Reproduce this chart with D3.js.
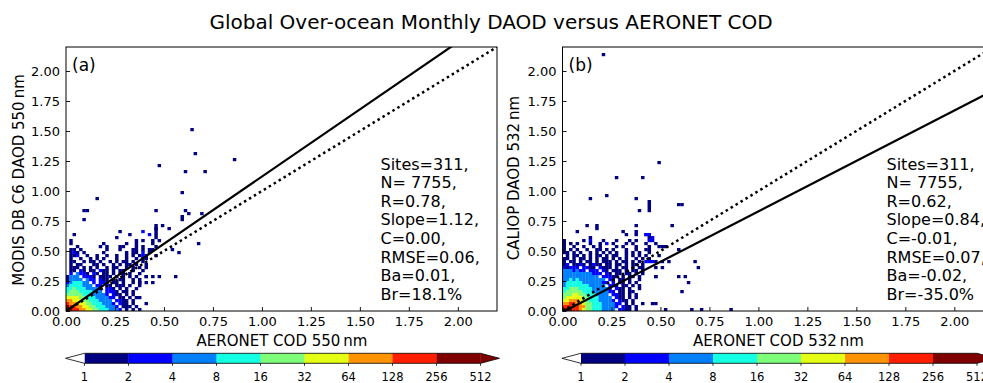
<!DOCTYPE html>
<html><head><meta charset="utf-8">
<script src="https://cdn.jsdelivr.net/npm/d3@7"></script>
<style>
body{margin:0;background:#fff}
svg{display:block;font-family:"DejaVu Sans",sans-serif}
</style>
</head><body><svg id="c" width="983" height="383"></svg>
<script>
// ---------------- data ----------------
const title = "Global Over-ocean Monthly DAOD versus AERONET COD";
const axisTicks = [0, 0.25, 0.5, 0.75, 1.0, 1.25, 1.5, 1.75, 2.0];
const cbarTicks = [1, 2, 4, 8, 16, 32, 64, 128, 256, 512];
const binColors = ["#000080", "#0000ff", "#0080ff", "#15ffe2", "#7dff7a", "#e4ff13", "#ff9400", "#ff1e00", "#800000"];
// representative count for each level digit (0 = empty)
const levelCounts = [0, 1, 3, 6, 12, 24, 48, 96, 192, 384];
const binW = 0.0167, binH = 0.025;

// panel (a): rows top (iy=28) to bottom (iy=0), columns ix=0..
const gridA = [
"...........................1..",
"...........................1..",
"................1......2...1..",
"..1................1.....2.1..",
"...............1...........1..",
".1...................1.1..1.1.",
".1.........1......1..1....1...",
"...1......1.1...11...1.1...1..",
".11.1.......1...1...11.1.11...",
".121.1.....1......1.11.2.1....",
".112..1..1..1..1..1.1.122..1..",
".1..1..1.1.1...1..1..1.11.....",
".11..1.11.1..1.1.11.1..1......",
".1.11...11.1..1.1.11.1..1.....",
".111.1.1.1..1.11..1.1.1.1.....",
".11.21.11.211.1.11..1..1......",
".2.3221.21.11.1.11.1..1.......",
"1333.2221.1111.1.1.1.1..1.1...",
"13333.322.211.1.11..1.1.......",
"2344433.2.221.11.1..1.1.1.....",
"34444333.22.21.111.1..1.......",
"44544433332.221.1.1..1........",
"45554444333.2221.11.1.........",
"5555544433332.211.1.1.........",
"666655444333322.11.1..1.......",
"77666554443333.2211.1.........",
"877766554443332.211.1...1.....",
"9887766554443332.111.1........",
"99887766554443332.1.1.1......."
];
const outliersA = [
[38,60,1],[39,52,1],[51,50,1],[28,48,1],[36,46,1],[42,46,1],[35,39,1],[9,37,1],
[5,33,1],[6,33,1],[5,30,1],[27,33,1],[36,33,1],[37,32,1],[35,31,1],[35,30,1],
[41,32,1],[29,28,1],[31,27,1],[27,27,1],[34,19,1],[40,22,1],[32,20,1],[33,11,1],
[28,11,1],[24,11,1],[26,9,1],[22,9,1],[21,4,1],[17,2,1]
];
const fitA = [1.12, 0.00];
const statsA = ["Sites=311,", "N= 7755,", "R=0.78,", "Slope=1.12,", "C=0.00,", "RMSE=0.06,", "Ba=0.01,", "Br=18.1%"];

// panel (b)
const gridB = [
".......1..1...........1........",
"..........1....................",
"....1.............1...1........",
"...................1..1..12....",
"........1.................1....",
"1.....1.2...1...1...1.1...2....",
"1.1.1...1..1.2.1...1.1...1..1..",
"1..1..1..1.1....1.1...1...1...1",
"1.1.1..1..11.1.1...1..1..11....",
"11.1.1..1.1.1.1.1..1.1.1..1....",
".1.11.1.1.11.1.11..1.1.1.1...1.",
"11.1.11.1.1.11.1.1.1..1.1.1....",
"1.11.1.11.1.111.1.11.1.1.2221.1",
"12.1121.1211.11.11.1.11.1......",
"21222.2211.2111.1.11.1.11...1..",
"3332322.222.21.111.1.11.1......",
"333333333222.21.11.11.1.1......",
"33333333333.22211.1.11.1....1..",
"3343433333333.21.11.1..1.......",
"34444433333322.2.11.1.1........",
"3444444433333.221.11.1.1.......",
"445554444333332.211.1..1.......",
"4555554443333322.11.11.........",
"55566554443333.2211.1.1........",
"566666554443333.211.1.1........",
"6677765544433332.211.1.........",
"778877655444333322.1.1.....1...",
"88888775544433332.211.1........",
"9998876554443333.2211.1........"
];
const outliersB = [
[12,85,1],[29,49,1],[16,44,1],[24,44,1],[13,38,1],[8,37,1],[22,37,1],[23,33,1],
[26,33,1],[26,34,1],[26,35,1],[26,36,1],[35,35,1],[36,35,1],[33,28,1],[29,21,1],
[31,21,1],[35,20,1],[32,16,1],[40,16,1],[41,14,1],[30,14,1],[28,11,1],[35,11,1],
[37,11,1],[38,9,1],[36,6,1],[28,2,1],[24,2,1],[31,0,1],[39,0,1],[42,0,1],[51,0,1],
[27,24,2],[27,23,2],[25,25,2]
];
const fitB = [0.84, -0.01];
const statsB = ["Sites=311,", "N= 7755,", "R=0.62,", "Slope=0.84,", "C=-0.01,", "RMSE=0.07,", "Ba=-0.02,", "Br=-35.0%"];

// ---------------- drawing ----------------
const svg = d3.select("#c");
svg.append("rect").attr("width", 983).attr("height", 383).attr("fill", "#fff");

svg.append("text").attr("x", 491).attr("y", 29).attr("text-anchor", "middle")
  .attr("font-size", 20).text(title);

const color = d3.scaleThreshold().domain(cbarTicks.slice(1)).range(binColors.concat(["#800000"]));

const panels = [
  {left: 66, grid: gridA, out: outliersA, fit: fitA, stats: statsA, label: "(a)",
   ylab: "MODIS DB C6 DAOD 550\u2009nm", xlab: "AERONET COD 550\u2009nm", statX: 380.5, ylabX: 24},
  {left: 562.5, grid: gridB, out: outliersB, fit: fitB, stats: statsB, label: "(b)",
   ylab: "CALIOP DAOD 532\u2009nm", xlab: "AERONET COD 532\u2009nm", statX: 886.5, ylabX: 519}
];

const PW = 431, plotTop = 47, plotBottom = 311;

panels.forEach((p, pi) => {
  const x = d3.scaleLinear().domain([0, 2.2]).range([p.left, p.left + PW]);
  const y = d3.scaleLinear().domain([0, 2.2]).range([plotBottom, plotTop]);
  const g = svg.append("g");
  const cid = "clip" + pi;
  svg.append("clipPath").attr("id", cid).append("rect")
    .attr("x", p.left).attr("y", plotTop).attr("width", PW).attr("height", plotBottom - plotTop);

  // cells
  const cells = [];
  const n = p.grid.length;
  p.grid.forEach((row, i) => {
    const iy = n - 1 - i;
    for (let ix = 0; ix < row.length; ix++) {
      const c = row[ix];
      if (c !== ".") cells.push({ix, iy, count: levelCounts[+c]});
    }
  });
  p.out.forEach(d => cells.push({ix: d[0], iy: d[1], count: levelCounts[d[2]]}));

  const cg = g.append("g").attr("clip-path", `url(#${cid})`);
  cg.selectAll("rect.cell").data(cells).join("rect")
    .attr("class", "cell")
    .attr("x", d => x(d.ix * binW))
    .attr("y", d => y((d.iy + 1) * binH))
    .attr("width", d => x((d.ix + 1) * binW) - x(d.ix * binW) + 0.2)
    .attr("height", d => y(d.iy * binH) - y((d.iy + 1) * binH) + 0.2)
    .attr("fill", d => color(d.count));

  // 1:1 dotted line
  cg.append("line")
    .attr("x1", x(0)).attr("y1", y(0)).attr("x2", x(2.2)).attr("y2", y(2.2))
    .attr("stroke", "#000").attr("stroke-width", 2.5).attr("stroke-dasharray", "2.5,3.3");
  // fit line
  cg.append("line")
    .attr("x1", x(0)).attr("y1", y(p.fit[1]))
    .attr("x2", x(2.2)).attr("y2", y(p.fit[0] * 2.2 + p.fit[1]))
    .attr("stroke", "#000").attr("stroke-width", 2.2);

  // axes
  const xa = g.append("g").attr("transform", `translate(0,${plotBottom})`)
    .call(d3.axisBottom(x).tickValues(axisTicks).tickFormat(d3.format(".2f"))
      .tickSizeInner(-4).tickSizeOuter(0).tickPadding(6));
  const ya = g.append("g").attr("transform", `translate(${p.left},0)`)
    .call(d3.axisLeft(y).tickValues(axisTicks).tickFormat(d3.format(".2f"))
      .tickSizeInner(-4).tickSizeOuter(0).tickPadding(6));
  [xa, ya].forEach(a => {
    a.select(".domain").remove();
    a.selectAll("text").attr("font-size", 13).attr("fill", "#000")
      .attr("font-family", "DejaVu Sans, sans-serif");
    a.selectAll("line").attr("stroke", "#000").attr("stroke-width", 0.9);
  });

  // frame
  g.append("rect").attr("x", p.left).attr("y", plotTop).attr("width", PW).attr("height", plotBottom - plotTop)
    .attr("fill", "none").attr("stroke", "#000").attr("stroke-width", 1);

  // panel label
  g.append("text").attr("x", p.left + 6).attr("y", 71).attr("font-size", 17).text(p.label);

  // stats
  p.stats.forEach((s, i) => {
    g.append("text").attr("x", p.statX).attr("y", 169.5 + i * 18.6)
      .attr("font-size", 16).text(s);
  });

  // axis labels
  g.append("text").attr("x", p.left + 216).attr("y", 345.5).attr("text-anchor", "middle")
    .attr("font-size", 15).text(p.xlab);
  g.append("text").attr("transform", `translate(${p.ylabX},${pi === 0 ? 180 : 178}) rotate(-90)`)
    .attr("text-anchor", "middle").attr("font-size", 15).text(p.ylab);

  // colorbar
  const cb0 = p.left + 18.5, segW = 44;
  const cbx = d3.scaleLog().base(2).domain([1, 512]).range([cb0, cb0 + 9 * segW]);
  const cy0 = 353.3, cy1 = 363.3, cym = (cy0 + cy1) / 2;
  const cbg = g.append("g");
  cbg.selectAll("rect").data(binColors).join("rect")
    .attr("x", (d, i) => cbx(cbarTicks[i]))
    .attr("y", cy0)
    .attr("width", (d, i) => cbx(cbarTicks[i + 1]) - cbx(cbarTicks[i]) + 0.3)
    .attr("height", cy1 - cy0)
    .attr("fill", d => d);
  const x0 = cbx(1), x1 = cbx(512);
  cbg.append("path").attr("d", `M${x0},${cy0}L${x0 - 19},${cym}L${x0},${cy1}Z`).attr("fill", "#fff");
  cbg.append("path").attr("d", `M${x1},${cy0}L${x1 + 19},${cym}L${x1},${cy1}Z`).attr("fill", "#800000");
  cbg.append("path")
    .attr("d", `M${x0},${cy0}L${x1},${cy0}L${x1 + 19},${cym}L${x1},${cy1}L${x0},${cy1}L${x0 - 19},${cym}Z`)
    .attr("fill", "none").attr("stroke", "#000").attr("stroke-width", 0.8);
  cbarTicks.forEach(t => {
    cbg.append("line").attr("x1", cbx(t)).attr("x2", cbx(t)).attr("y1", cy1).attr("y2", cy1 + 2.5)
      .attr("stroke", "#000").attr("stroke-width", 0.8);
    cbg.append("text").attr("x", cbx(t)).attr("y", 380.5).attr("text-anchor", "middle")
      .attr("font-size", 11.5).text(t);
  });
});
</script>
</body></html>
